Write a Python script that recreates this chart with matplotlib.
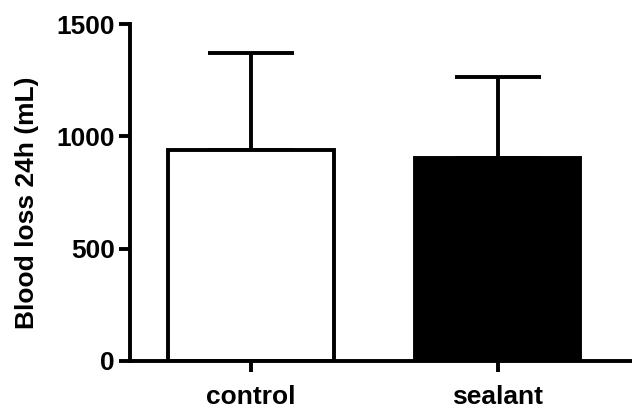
import matplotlib
matplotlib.use("Agg")
import matplotlib.pyplot as plt

categories = ["control", "sealant"]
means = [938, 903]
errors_upper = [432, 362]
face_colors = ["white", "black"]

plt.rcParams['font.family'] = ['Liberation Sans', 'DejaVu Sans']
plt.rcParams['font.weight'] = 'bold'

fig = plt.figure(figsize=(6.32, 4.09), dpi=100)
ax = fig.add_axes([130/632, 48/409, 1 - 130/632, (361-24)/409])

x = list(range(len(categories)))
lw = 2.8
ax.bar(x, means, width=0.67, color=face_colors, edgecolor="black", linewidth=lw, zorder=2)
ax.errorbar(x, means, yerr=[[0]*len(means), errors_upper], fmt="none", ecolor="black",
            elinewidth=lw, capsize=31, capthick=lw, zorder=1)

ax.set_xlim(-0.49, 1.545)
ax.set_ylim(0, 1500)
ax.set_yticks([0, 500, 1000, 1500])
ax.set_xticks(x)
ax.set_xticklabels(categories)
ax.set_ylabel("Blood loss 24h (mL)", fontsize=19, fontweight="bold", va="center")
ax.yaxis.set_label_coords(-0.205, 0.47)

for s in ["top", "right"]:
    ax.spines[s].set_visible(False)
for s in ["left", "bottom"]:
    ax.spines[s].set_linewidth(lw)
ax.tick_params(axis="y", length=8, width=lw, labelsize=19, pad=3)
ax.tick_params(axis="x", length=8, width=lw, labelsize=19, pad=9)
for lab in ax.get_xticklabels() + ax.get_yticklabels():
    lab.set_fontweight("bold")

fig.savefig("out.png", dpi=100)
